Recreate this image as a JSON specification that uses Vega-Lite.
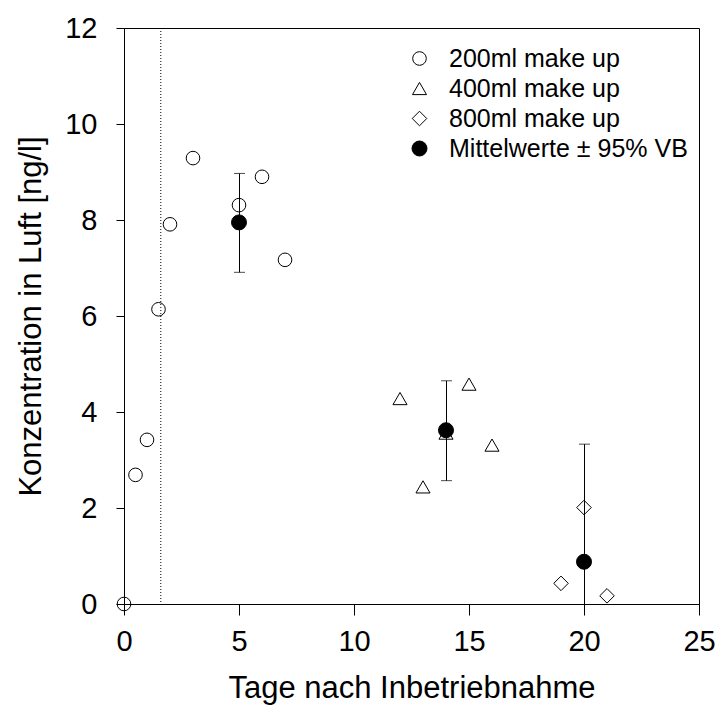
{
  "$schema": "https://vega.github.io/schema/vega-lite/v6.json",
  "width": 575,
  "height": 576,
  "autosize": "none",
  "padding": {"left": 124, "top": 28, "right": 19, "bottom": 114},
  "background": "white",
  "config": {
    "font": "Liberation Sans",
    "view": {"stroke": "black", "strokeWidth": 1},
    "scale": {"continuousPadding": 0},
    "axis": {
      "domainColor": "black", "tickColor": "black", "labelColor": "black", "titleColor": "black",
      "grid": false, "labelFontSize": 29, "titleFontSize": 31, "titleFontWeight": "normal",
      "labelFont": "Liberation Sans", "titleFont": "Liberation Sans", "labelFlush": false, "labelOverlap": false
    },
    "legend": {
      "labelFontSize": 25, "labelFont": "Liberation Sans", "labelColor": "black", "labelLimit": 400,
      "symbolStrokeWidth": 1, "labelOffset": 17, "rowPadding": 4
    }
  },
  "datasets": {
    "pts": [
      {"tage": 0, "konz": 0.0, "serie": "200ml make up"},
      {"tage": 0.5, "konz": 2.69, "serie": "200ml make up"},
      {"tage": 1, "konz": 3.42, "serie": "200ml make up"},
      {"tage": 1.5, "konz": 6.14, "serie": "200ml make up"},
      {"tage": 2, "konz": 7.91, "serie": "200ml make up"},
      {"tage": 3, "konz": 9.29, "serie": "200ml make up"},
      {"tage": 5, "konz": 8.31, "serie": "200ml make up"},
      {"tage": 6, "konz": 8.9, "serie": "200ml make up"},
      {"tage": 7, "konz": 7.17, "serie": "200ml make up"},
      {"tage": 12, "konz": 4.28, "serie": "400ml make up"},
      {"tage": 13, "konz": 2.44, "serie": "400ml make up"},
      {"tage": 14, "konz": 3.56, "serie": "400ml make up"},
      {"tage": 15, "konz": 4.58, "serie": "400ml make up"},
      {"tage": 16, "konz": 3.31, "serie": "400ml make up"},
      {"tage": 19, "konz": 0.43, "serie": "800ml make up"},
      {"tage": 20, "konz": 2.01, "serie": "800ml make up"},
      {"tage": 21, "konz": 0.17, "serie": "800ml make up"},
      {"tage": 5, "konz": 7.95, "serie": "Mittelwerte ± 95% VB"},
      {"tage": 14, "konz": 3.62, "serie": "Mittelwerte ± 95% VB"},
      {"tage": 20, "konz": 0.88, "serie": "Mittelwerte ± 95% VB"}
    ],
    "err": [
      {"tage": 5, "lo": 6.91, "hi": 8.97},
      {"tage": 14, "lo": 2.57, "hi": 4.65},
      {"tage": 20, "lo": -1.57, "hi": 3.33}
    ],
    "vline": [{"tage": 1.6}]
  },
  "layer": [
    {
      "data": {"name": "vline"},
      "mark": {"type": "rule", "strokeDash": [1, 2], "color": "black", "strokeWidth": 1},
      "encoding": {
        "x": {"field": "tage", "type": "quantitative"}
      }
    },
    {
      "data": {"name": "err"},
      "mark": {"type": "rule", "color": "black", "strokeWidth": 1, "clip": true, "xOffset": 0.5},
      "encoding": {
        "x": {"field": "tage", "type": "quantitative"},
        "y": {"field": "lo", "type": "quantitative"},
        "y2": {"field": "hi"}
      }
    },
    {
      "data": {"name": "err"},
      "mark": {"type": "tick", "orient": "horizontal", "color": "black", "size": 11, "thickness": 1, "clip": true, "xOffset": 0.5},
      "encoding": {
        "x": {"field": "tage", "type": "quantitative"},
        "y": {"field": "hi", "type": "quantitative"}
      }
    },
    {
      "data": {"name": "err"},
      "mark": {"type": "tick", "orient": "horizontal", "color": "black", "size": 11, "thickness": 1, "clip": true, "xOffset": 0.5},
      "encoding": {
        "x": {"field": "tage", "type": "quantitative"},
        "y": {"field": "lo", "type": "quantitative"}
      }
    },
    {
      "data": {"name": "pts"},
      "mark": {"type": "point", "filled": false, "strokeWidth": 1, "opacity": 1},
      "encoding": {
        "x": {
          "field": "tage", "type": "quantitative",
          "scale": {"domain": [0, 25], "nice": false, "zero": false, "padding": 0},
          "axis": {"values": [0, 5, 10, 15, 20, 25], "title": "Tage nach Inbetriebnahme", "tickSize": 11, "labelPadding": 12, "titlePadding": 17}
        },
        "y": {
          "field": "konz", "type": "quantitative",
          "scale": {"domain": [0, 12], "nice": false, "padding": 0},
          "axis": {"values": [0, 2, 4, 6, 8, 10, 12], "title": "Konzentration in Luft [ng/l]", "tickSize": 8, "labelPadding": 19, "titlePadding": 17}
        },
        "size": {
          "field": "serie", "type": "nominal",
          "scale": {
            "domain": ["200ml make up", "400ml make up", "800ml make up", "Mittelwerte ± 95% VB"],
            "range": [185, 225, 290, 200]
          },
          "legend": {"title": null, "orient": "none", "legendX": 283, "legendY": 18}
        },
        "shape": {
          "field": "serie", "type": "nominal",
          "scale": {
            "domain": ["200ml make up", "400ml make up", "800ml make up", "Mittelwerte ± 95% VB"],
            "range": ["circle", "triangle-up", "diamond", "circle"]
          },
          "legend": {"title": null, "orient": "none", "legendX": 283, "legendY": 18}
        },
        "fill": {
          "field": "serie", "type": "nominal",
          "scale": {
            "domain": ["200ml make up", "400ml make up", "800ml make up", "Mittelwerte ± 95% VB"],
            "range": ["transparent", "transparent", "transparent", "black"]
          },
          "legend": {"title": null, "orient": "none", "legendX": 283, "legendY": 18}
        },
        "stroke": {
          "field": "serie", "type": "nominal",
          "scale": {
            "domain": ["200ml make up", "400ml make up", "800ml make up", "Mittelwerte ± 95% VB"],
            "range": ["black", "black", "black", "black"]
          },
          "legend": {"title": null, "orient": "none", "legendX": 283, "legendY": 18}
        }
      }
    }
  ]
}
